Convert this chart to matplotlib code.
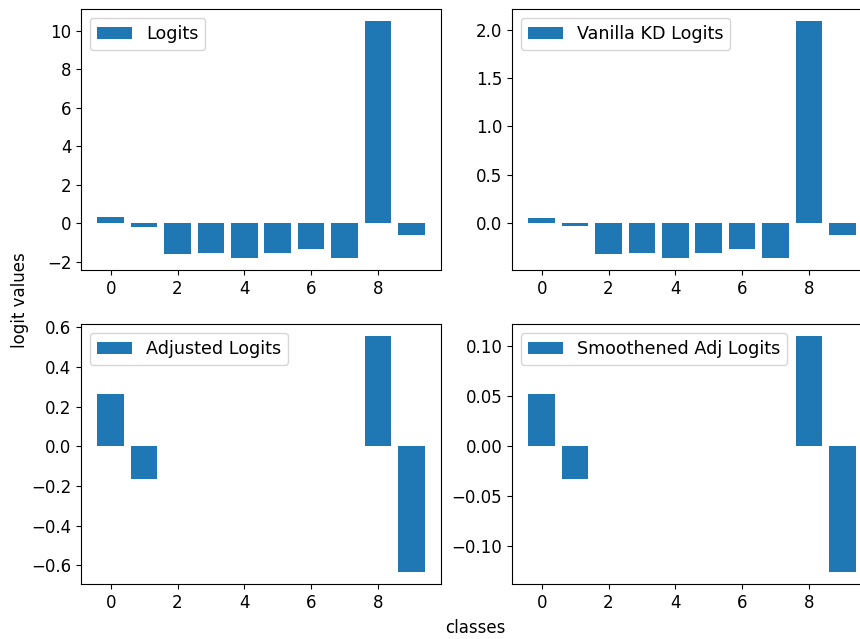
import numpy as np
import matplotlib
matplotlib.use("Agg")
import matplotlib.pyplot as plt

classes = np.arange(10)
logits = [0.33, -0.17, -1.62, -1.53, -1.81, -1.53, -1.34, -1.81, 10.52, -0.62]
vanilla_kd = [0.052, -0.038, -0.331, -0.314, -0.369, -0.314, -0.276, -0.369, 2.097, -0.131]
adjusted = [0.266, -0.166, 0.0, 0.0, 0.0, 0.0, 0.0, 0.0, 0.557, -0.634]
smoothened = [0.0528, -0.0329, 0.0, 0.0, 0.0, 0.0, 0.0, 0.0, 0.1106, -0.1259]

plt.rcParams["font.size"] = 12

W, H = 860, 639
fig = plt.figure(figsize=(W / 100, H / 100), dpi=100)

def box(x0, y0, x1, y1):
    return [x0 / W, 1 - y1 / H, (x1 - x0) / W, (y1 - y0) / H]

panels = [
    (box(81, 9, 441, 270), logits, "Logits"),
    (box(512, 9, 872, 270), vanilla_kd, "Vanilla KD Logits"),
    (box(81, 324, 441, 584), adjusted, "Adjusted Logits"),
    (box(512, 324, 872, 584), smoothened, "Smoothened Adj Logits"),
]

for rect, vals, name in panels:
    ax = fig.add_axes(rect)
    ax.bar(classes, vals, color="#1f77b4", label=name)
    ax.legend(loc="upper left", fontsize=12.6)

fig.text(20 / W, 1 - 300 / H, "logit values", rotation=90, ha="center", va="center")
fig.text(475 / W, 1 - 628 / H, "classes", ha="center", va="center")

fig.savefig("out.png", dpi=100)
